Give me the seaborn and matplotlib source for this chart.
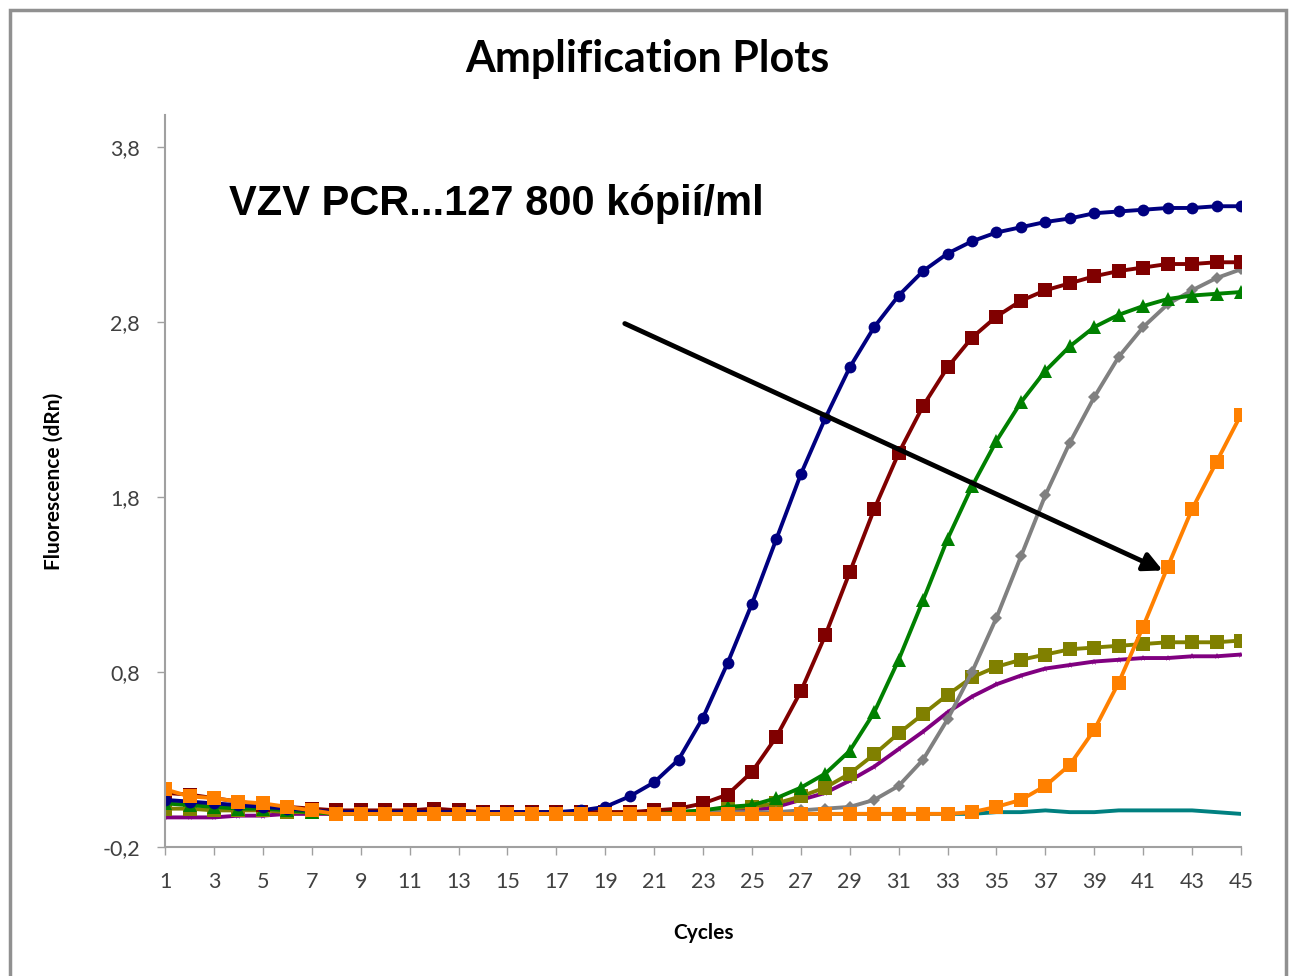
import numpy as np
import pandas as pd
import matplotlib
matplotlib.use("Agg")
import matplotlib.pyplot as plt
from matplotlib.patches import Rectangle
from matplotlib.ticker import FuncFormatter
import seaborn as sns

sns.set_style("white")
plt.rcParams['font.family'] = ['Lato', 'DejaVu Sans']
plt.rcParams['text.color'] = 'black'
plt.rcParams['axes.labelcolor'] = 'black'

cycles = list(range(1, 46))

# values, one per cycle (1..45)
navy = [0.07, 0.06, 0.05, 0.04, 0.03, 0.02, 0.01, 0.0, 0.0, 0.0,
        0.0, 0.0, 0.0, 0.0, 0.0, 0.0, 0.0, 0.01, 0.03, 0.09,
        0.17, 0.30, 0.54, 0.85, 1.19, 1.56, 1.93, 2.25, 2.54, 2.77,
        2.95, 3.09, 3.19, 3.26, 3.31, 3.34, 3.37, 3.39, 3.42, 3.43,
        3.44, 3.45, 3.45, 3.46, 3.46]
darkred = [0.11, 0.10, 0.08, 0.06, 0.04, 0.03, 0.02, 0.01, 0.01, 0.01,
           0.01, 0.02, 0.01, 0.0, 0.0, 0.0, 0.0, 0.0, 0.0, 0.0,
           0.01, 0.02, 0.05, 0.10, 0.23, 0.43, 0.69, 1.01, 1.37, 1.73,
           2.05, 2.32, 2.54, 2.71, 2.83, 2.92, 2.98, 3.02, 3.06, 3.09,
           3.11, 3.13, 3.13, 3.14, 3.14]
green = [0.05, 0.04, 0.03, 0.02, 0.02, 0.01, 0.0, -0.01, -0.01, -0.01,
         -0.01, -0.01, -0.01, -0.01, -0.01, -0.01, -0.01, -0.01, -0.01, -0.01,
         0.0, 0.0, 0.01, 0.03, 0.04, 0.08, 0.14, 0.22, 0.35, 0.57,
         0.87, 1.21, 1.56, 1.86, 2.12, 2.34, 2.52, 2.66, 2.77, 2.84,
         2.89, 2.93, 2.95, 2.96, 2.97]
gray = [0.06, 0.05, 0.04, 0.03, 0.02, 0.01, 0.01, 0.0, 0.0, 0.0,
        0.0, 0.0, 0.0, 0.0, 0.0, 0.0, 0.0, 0.0, 0.0, 0.0,
        0.0, 0.0, 0.0, 0.0, 0.0, 0.0, 0.01, 0.02, 0.03, 0.07,
        0.15, 0.30, 0.53, 0.80, 1.11, 1.46, 1.81, 2.11, 2.37, 2.60,
        2.77, 2.90, 2.98, 3.05, 3.10]
olive = [0.02, 0.02, 0.01, 0.01, 0.01, 0.0, 0.0, -0.01, -0.01, -0.01,
         -0.01, -0.01, -0.01, -0.01, -0.01, -0.01, -0.01, -0.01, 0.0, 0.0,
         0.0, 0.0, 0.01, 0.02, 0.03, 0.05, 0.09, 0.14, 0.22, 0.33,
         0.45, 0.56, 0.67, 0.77, 0.83, 0.87, 0.90, 0.93, 0.94, 0.95,
         0.96, 0.97, 0.97, 0.97, 0.98]
purple = [-0.03, -0.03, -0.03, -0.02, -0.02, -0.01, -0.01, -0.01, 0.0, 0.0,
          0.0, 0.0, 0.0, 0.0, 0.0, 0.0, 0.0, 0.0, 0.0, 0.0,
          0.0, 0.0, 0.0, 0.01, 0.01, 0.03, 0.07, 0.11, 0.18, 0.26,
          0.36, 0.46, 0.57, 0.66, 0.73, 0.78, 0.82, 0.84, 0.86, 0.87,
          0.88, 0.88, 0.89, 0.89, 0.90]
orange = [0.13, 0.09, 0.08, 0.06, 0.05, 0.03, 0.01, -0.01, -0.01, -0.01,
          -0.01, -0.01, -0.01, -0.01, -0.01, -0.01, -0.01, -0.01, -0.01, -0.01,
          -0.01, -0.01, -0.01, -0.01, -0.01, -0.01, -0.01, -0.01, -0.01, -0.01,
          -0.01, -0.01, -0.01, 0.0, 0.03, 0.07, 0.15, 0.27, 0.47, 0.74,
          1.06, 1.40, 1.73, 2.00, 2.27]
teal = [0.06, 0.05, 0.04, 0.03, 0.02, 0.01, 0.0, -0.01, -0.01, -0.01,
        -0.01, -0.01, -0.01, -0.01, -0.01, -0.01, -0.01, -0.01, -0.01, -0.01,
        -0.01, -0.01, -0.01, -0.01, -0.01, -0.01, -0.01, -0.01, -0.01, -0.01,
        -0.01, -0.01, -0.01, -0.01, 0.0, 0.0, 0.01, 0.0, 0.0, 0.01,
        0.01, 0.01, 0.01, 0.0, -0.01]

series = [
    # name, values, colour, marker, marker size
    ("teal", teal, "#008080", None, 0),
    ("purple", purple, "#800080", "*", 5),
    ("olive", olive, "#808000", "s", 9.5),
    ("gray", gray, "#808080", "D", 6.5),
    ("green", green, "#008000", "^", 9.5),
    ("darkred", darkred, "#800000", "s", 9.5),
    ("navy", navy, "#000080", "o", 8.5),
    ("orange", orange, "#FF8000", "s", 9.5),
]

fig = plt.figure(figsize=(12.9, 9.76), dpi=100)
ax = fig.add_axes([0.128, 0.132, 0.834, 0.750])

for name, vals, col, mk, ms in series:
    df = pd.DataFrame({"cycle": cycles, "dRn": vals})
    sns.lineplot(data=df, x="cycle", y="dRn", ax=ax, color=col, lw=2.8,
                 marker=mk, markersize=ms, markeredgewidth=0)

ax.set_xlim(1, 45)
ax.set_ylim(-0.2, 3.98)
ax.set_xticks(range(1, 46, 2))
ax.set_yticks([-0.2, 0.8, 1.8, 2.8, 3.8])
ax.yaxis.set_major_formatter(FuncFormatter(lambda v, p: f"{v:.1f}".replace(".", ",")))
ax.tick_params(axis="both", labelsize=15.5, labelcolor="#404040", length=6, width=1,
               direction="out", left=True, bottom=True, pad=12, color="#a0a0a0")

for s in ["top", "right"]:
    ax.spines[s].set_visible(False)
for s in ["left", "bottom"]:
    ax.spines[s].set_color("#a0a0a0")
    ax.spines[s].set_linewidth(1.5)

ax.set_xlabel("Cycles", fontsize=15, fontweight="bold", labelpad=22)
ax.set_ylabel("Fluorescence (dRn)", fontsize=15, fontweight="bold", labelpad=28)

fig.text(0.502, 0.94, "Amplification Plots", ha="center", va="center",
         fontsize=31, fontweight="bold", color="black")

ax.text(3.6, 3.47, "VZV PCR...127 800 kópií/ml", fontsize=30, fontweight="bold",
        family=["Liberation Sans", "DejaVu Sans"], va="center", ha="left", color="black")

ax.annotate("", xy=(41.8, 1.38), xytext=(19.8, 2.79),
            arrowprops=dict(arrowstyle="-|>", color="black", lw=3.5,
                            mutation_scale=28, shrinkA=0, shrinkB=0))

fig.add_artist(Rectangle((0.008, -0.05), 0.989, 1.04, transform=fig.transFigure,
                         fill=False, edgecolor="#909090", lw=2.5))

fig.savefig("out.png", dpi=100)
